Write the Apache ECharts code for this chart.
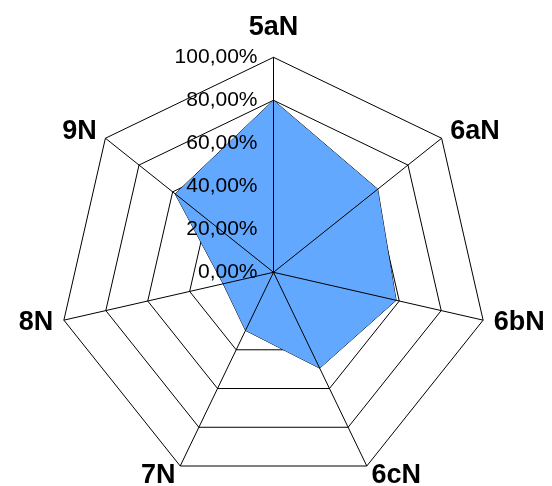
<!DOCTYPE html>
<html>
<head>
<meta charset="utf-8">
<script src="https://cdn.jsdelivr.net/npm/echarts@6/dist/echarts.min.js"></script>
<style>html,body{margin:0;padding:0;background:#fff}#c{width:552px;height:486px}</style>
</head>
<body>
<div id="c"></div>
<script>
var categories = ['5aN', '6aN', '6bN', '6cN', '7N', '8N', '9N'];
var values = [0.80, 0.62, 0.585, 0.495, 0.30, 0.24, 0.585];
var tickLabels = ['0,00%', '20,00%', '40,00%', '60,00%', '80,00%', '100,00%'];

var CENTER = [273.5, 272.3];
var RADIUS = 215;

// ECharts radar runs counter-clockwise; reorder so the categories run clockwise
function clockwise(arr) { return [arr[0]].concat(arr.slice(1).reverse()); }
var radarCats = clockwise(categories);
var radarVals = clockwise(values);

var chart = echarts.init(document.getElementById('c'));
chart.setOption({
  animation: false,
  backgroundColor: '#ffffff',
  radar: {
    center: CENTER,
    radius: RADIUS,
    startAngle: 90,
    shape: 'polygon',
    splitNumber: 5,
    nameGap: 11,
    indicator: radarCats.map(function (c) { return { name: c, min: 0, max: 1 }; }),
    axisName: {
      color: '#000',
      fontFamily: 'Liberation Sans, Arial, sans-serif',
      fontWeight: 'bold',
      fontSize: 27,
      formatter: function (v) { return v === categories[0] ? '{top|' + v + '}' : v; },
      rich: {
        top: {
          color: '#000',
          fontFamily: 'Liberation Sans, Arial, sans-serif',
          fontWeight: 'bold',
          fontSize: 27,
          padding: [0, 0, 5, 0]
        }
      }
    },
    axisLine: { show: false },
    splitLine: { lineStyle: { color: '#000', width: 1 } },
    splitArea: { show: false }
  },
  polar: { center: CENTER, radius: RADIUS },
  angleAxis: {
    type: 'category',
    data: categories,
    startAngle: 90,
    clockwise: true,
    z: 10,
    axisLine: { show: false },
    axisTick: { show: false },
    axisLabel: { show: false },
    splitLine: { show: true, lineStyle: { color: '#000', width: 1 } }
  },
  radiusAxis: {
    type: 'value',
    min: 0,
    max: 1,
    interval: 0.2,
    z: 11,
    axisLine: { show: false },
    axisTick: { show: false },
    splitLine: { show: false },
    axisLabel: {
      margin: 16,
      color: '#000',
      fontFamily: 'Liberation Sans, Arial, sans-serif',
      fontSize: 21,
      formatter: function (v, i) { return tickLabels[i]; }
    }
  },
  series: [{
    type: 'radar',
    symbol: 'none',
    lineStyle: { color: '#000', width: 1 },
    areaStyle: { color: '#62a8ff', opacity: 1 },
    data: [{ value: radarVals }]
  }]
});
</script>
</body>
</html>
